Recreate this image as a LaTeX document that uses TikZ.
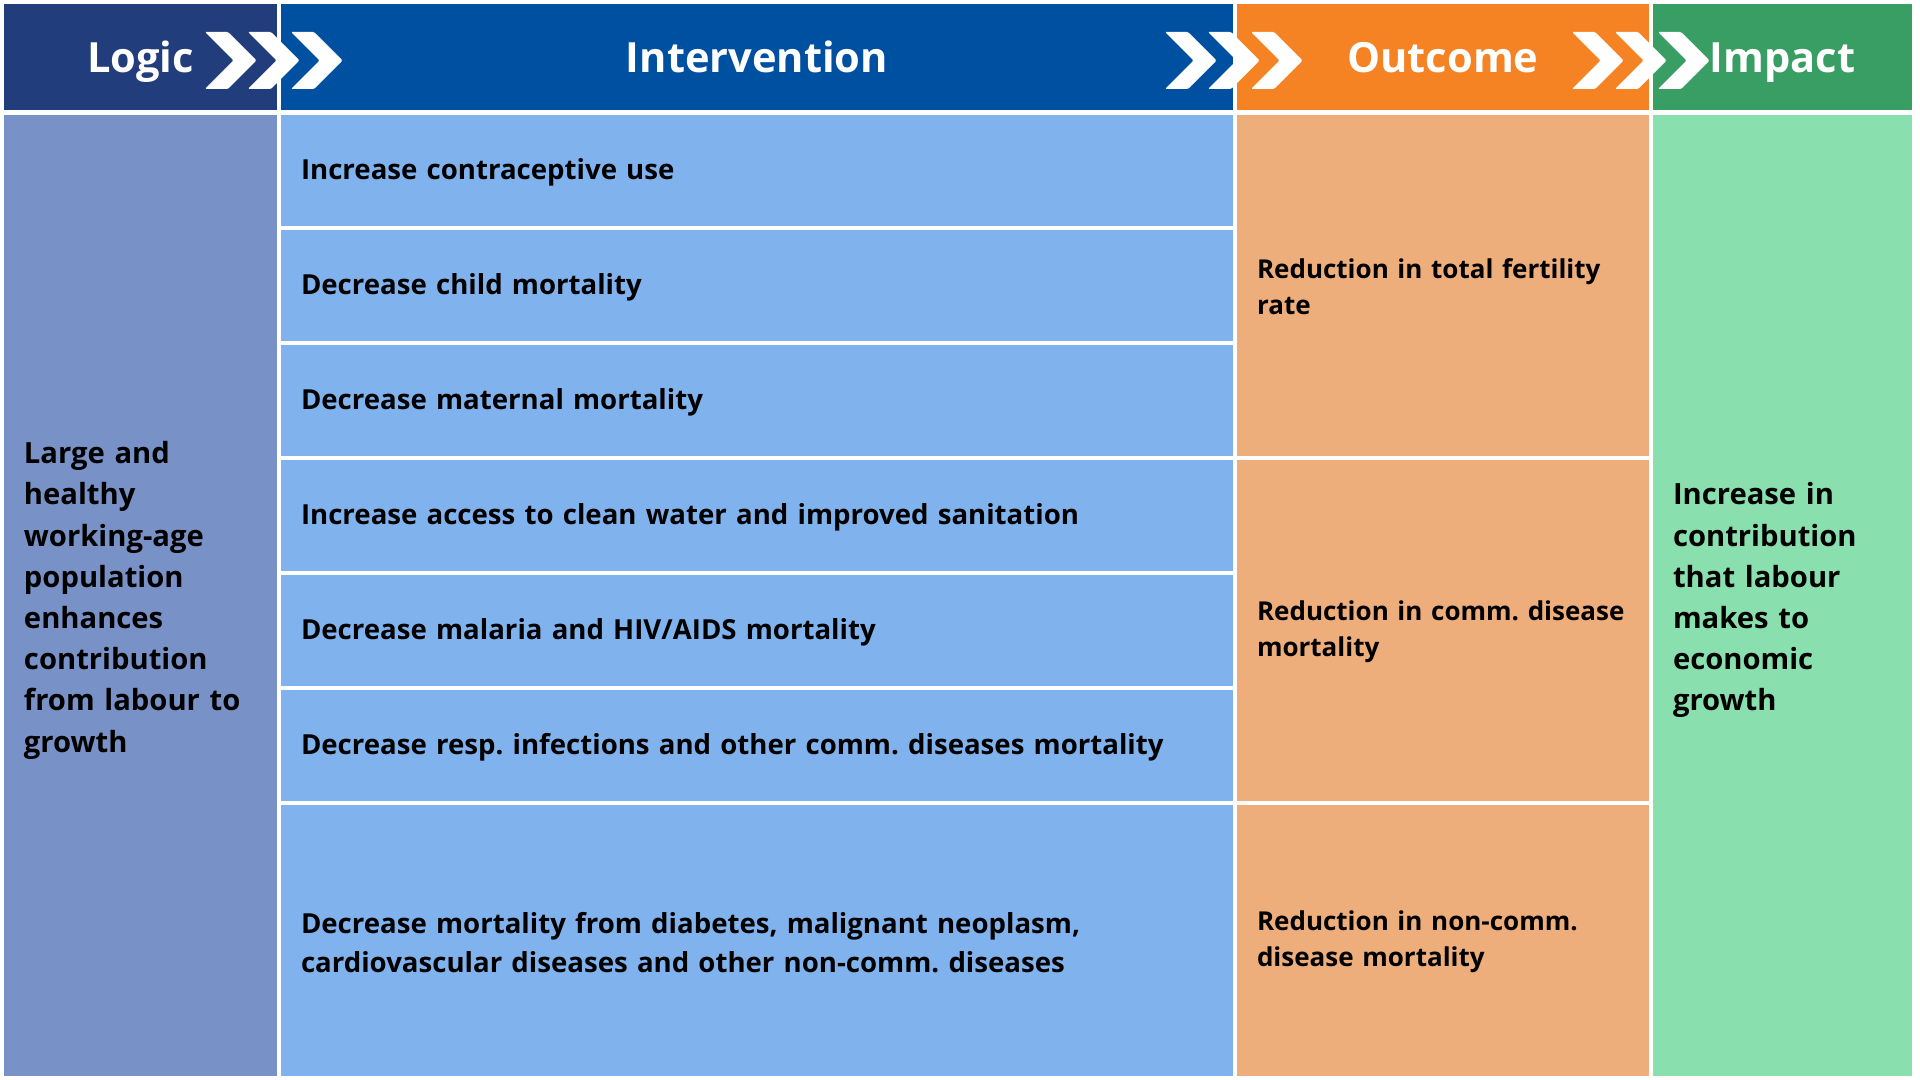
\documentclass[tikz,border=0pt]{standalone}
\usepackage{fontspec}
\setmainfont{Open Sans}
\usetikzlibrary{positioning}
\frenchspacing

\definecolor{logichead}{HTML}{223D7B}
\definecolor{inthead}{HTML}{0050A1}
\definecolor{outhead}{HTML}{F58323}
\definecolor{imphead}{HTML}{389E64}
\definecolor{logicbody}{HTML}{7891C6}
\definecolor{intbody}{HTML}{80B3EE}
\definecolor{outbody}{HTML}{EDAE7B}
\definecolor{impbody}{HTML}{89DFAD}

\begin{document}
\begin{tikzpicture}[x=0.5pt,y=-0.5pt,every node/.style={outer sep=0pt},
  head/.style={anchor=north west,inner sep=0pt,minimum height=53pt,
    text=white,text height=15.5pt,text depth=0pt,
    font=\bfseries\fontsize{20.8}{25}\selectfont},
  cell/.style={anchor=north west,inner xsep=10pt,inner ysep=0pt,align=left},
  sidecol/.style={cell,minimum height=480.5pt,
    font=\bfseries\fontsize{14.6}{20.6}\selectfont,
    execute at begin node=\rule{0pt}{16pt}},
  introw/.style={cell,fill=intbody,text width=456pt,minimum height=55.5pt,
    font=\bfseries\fontsize{13.8}{19.6}\selectfont,
    execute at begin node=\rule{0pt}{12.3pt}},
  outrow/.style={cell,fill=outbody,text width=186pt,minimum height=170.5pt,
    font=\bfseries\fontsize{13}{18}\selectfont,
    execute at begin node=\rule{0pt}{11.1pt}},
  chev/.style={fill=white,rounded corners=0.6pt}]
\useasboundingbox (0,0) rectangle (1920,1080);

% header bar
\node[head,fill=logichead,minimum width=136.5pt] (logichd) at (4,4) {Logic};
\node[head,fill=inthead,minimum width=476pt] (inthd) at (281,4) {Intervention};
\node[head,fill=outhead,minimum width=206pt] (outhd) at (1237,4) {Outcome};
\node[head,fill=imphead,minimum width=129.5pt] (imphd) at (1653,4) {Impact};

% chevrons between the columns
\foreach \cx in {205,248,291,1165,1208,1251,1572,1615,1658}
  \fill[chev] (\cx,32) -- ++(23,0) -- ++(28.5,28.5) -- ++(-28.5,28.5)
    -- ++(-23,0) -- ++(28.5,-28.5) -- cycle;

% logic column
\node[sidecol,fill=logicbody,text width=116.5pt] (logicbd) at (4,115)
  {Large and\\healthy\\working-age\\population\\enhances\\contribution\\from labour to\\growth};

% intervention column
\node[introw] (int1) at (281,115) {Increase contraceptive use};
\node[introw,below=2pt of int1] (int2) {Decrease child mortality};
\node[introw,below=2pt of int2] (int3) {Decrease maternal mortality};
\node[introw,below=2pt of int3] (int4) {Increase access to clean water and improved sanitation};
\node[introw,below=2pt of int4] (int5) {Decrease malaria and HIV/AIDS mortality};
\node[introw,below=2pt of int5] (int6) {Decrease resp. infections and other comm. diseases mortality};
\node[introw,below=2pt of int6,minimum height=135.5pt] (int7)
  {Decrease mortality from diabetes, malignant neoplasm,\\cardiovascular diseases and other non-comm. diseases};

% outcome column
\node[outrow] (out1) at (1237,115) {Reduction in total fertility\\rate};
\node[outrow,below=2pt of out1] (out2) {Reduction in comm. disease\\mortality};
\node[outrow,below=2pt of out2,minimum height=135.5pt] (out3) {Reduction in non-comm.\\disease mortality};

% impact column
\node[sidecol,fill=impbody,text width=109.5pt] (impbd) at (1653,115)
  {Increase in\\contribution\\that labour\\makes to\\economic\\growth};
\end{tikzpicture}
\end{document}
